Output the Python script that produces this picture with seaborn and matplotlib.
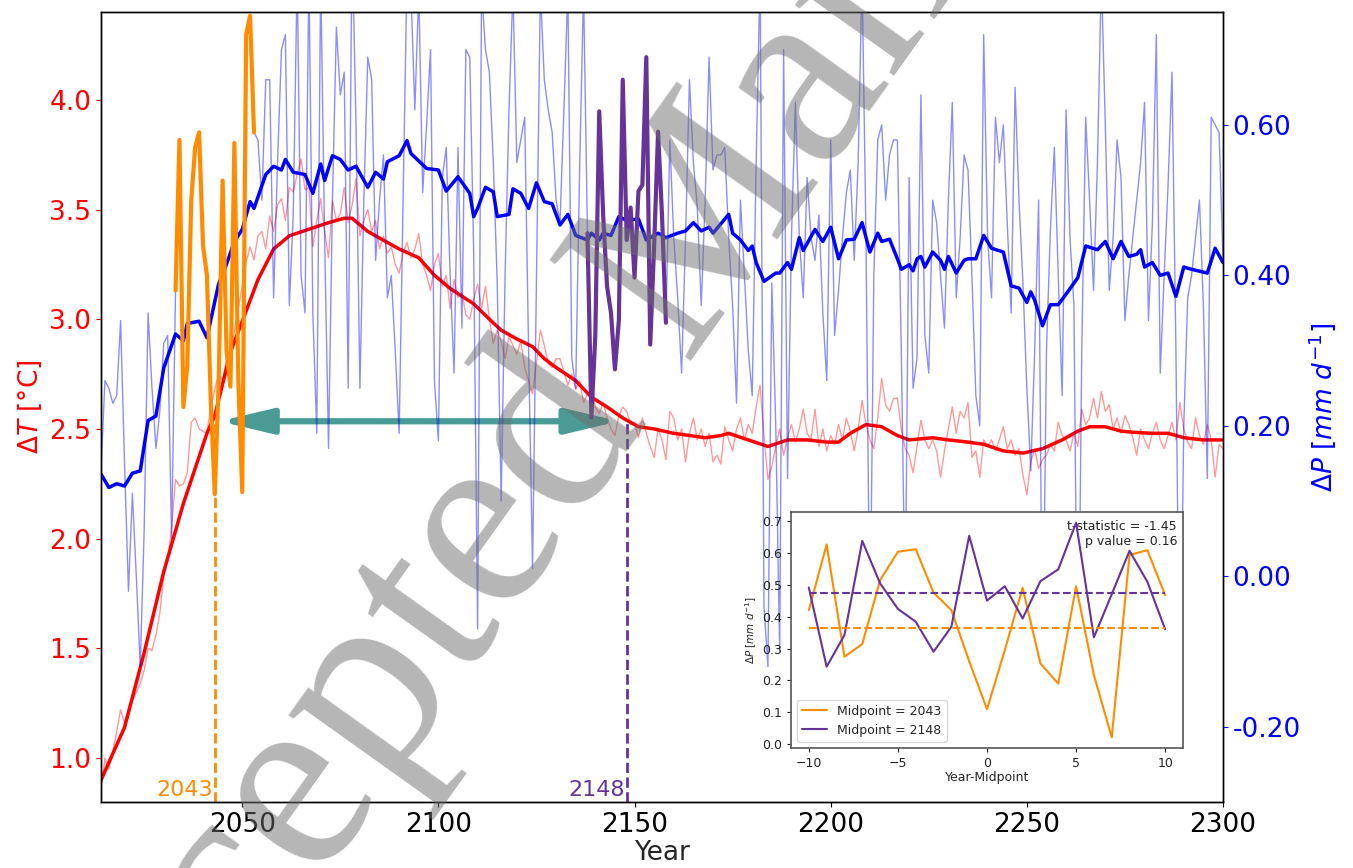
import numpy as np
import matplotlib
matplotlib.use("Agg")
import matplotlib.pyplot as plt
from matplotlib.ticker import FormatStrFormatter
import seaborn as sns

# ---- data ---------------------------------------------------------------
first_year, last_year = 2014, 2300

# annual temperature change (thin red), 2014-2300
temp_raw = [
    0.85, 1.00, 0.95, 1.03, 1.12, 1.22,
    1.16, 1.22, 1.26, 1.30, 1.34, 1.40, 1.50, 1.49, 1.56, 1.66,
    1.83, 1.90, 2.05, 2.27, 2.24, 2.25, 2.30, 2.53, 2.55, 2.50,
    2.49, 2.48, 2.60, 2.68, 2.75, 2.72, 2.82, 2.80, 2.95, 3.05,
    3.15, 3.26, 3.33, 3.27, 3.38, 3.40, 3.32, 3.47, 3.40, 3.52,
    3.55, 3.45, 3.60, 3.58, 3.66, 3.73, 3.59, 3.60, 3.33, 3.45,
    3.55, 3.40, 3.28, 3.54, 3.45, 3.48, 3.60, 3.44, 3.52, 3.64,
    3.38, 3.45, 3.50, 3.40, 3.45, 3.32, 3.38, 3.30, 3.33, 3.25,
    3.21, 3.30, 3.35, 3.28, 3.32, 3.39, 3.25, 3.20, 3.13, 3.25,
    3.30, 3.15, 3.20, 3.05, 3.18, 3.10, 3.12, 3.02, 3.00, 3.09,
    3.16, 3.05, 3.15, 3.00, 2.89, 2.95, 2.90, 2.82, 2.92, 2.88,
    2.84, 2.90, 2.78, 2.72, 2.66, 2.80, 2.95, 2.88, 2.80, 2.78,
    2.82, 2.82, 2.76, 2.70, 2.75, 2.68, 2.72, 2.62, 2.66, 2.68,
    2.60, 2.57, 2.62, 2.55, 2.50, 2.47, 2.56, 2.60, 2.58, 2.52,
    2.53, 2.46, 2.55, 2.48, 2.42, 2.37, 2.50, 2.45, 2.36, 2.58,
    2.55, 2.45, 2.50, 2.35, 2.48, 2.55, 2.45, 2.50, 2.42, 2.48,
    2.35, 2.38, 2.34, 2.51, 2.45, 2.40, 2.50, 2.55, 2.45, 2.52,
    2.48, 2.60, 2.70, 2.47, 2.27, 2.33, 2.42, 2.50, 2.38, 2.46,
    2.52, 2.44, 2.50, 2.59, 2.48, 2.45, 2.59, 2.42, 2.50, 2.40,
    2.47, 2.43, 2.52, 2.45, 2.55, 2.49, 2.40, 2.50, 2.63, 2.52,
    2.45, 2.41, 2.55, 2.73, 2.61, 2.58, 2.64, 2.64, 2.50, 2.41,
    2.38, 2.30, 2.42, 2.54, 2.45, 2.41, 2.45, 2.40, 2.28, 2.40,
    2.50, 2.60, 2.48, 2.58, 2.55, 2.62, 2.37, 2.40, 2.28, 2.45,
    2.42, 2.45, 2.40, 2.45, 2.51, 2.41, 2.45, 2.38, 2.41, 2.29,
    2.20, 2.35, 2.41, 2.32, 2.36, 2.38, 2.43, 2.40, 2.53, 2.47,
    2.45, 2.40, 2.48, 2.42, 2.59, 2.52, 2.55, 2.64, 2.55, 2.67,
    2.58, 2.61, 2.50, 2.55, 2.48, 2.56, 2.52, 2.46, 2.38, 2.50,
    2.45, 2.41, 2.48, 2.53, 2.45, 2.41, 2.47, 2.53, 2.45, 2.62,
    2.50, 2.44, 2.41, 2.55, 2.47, 2.43, 2.52, 2.45, 2.28, 2.43,
    2.41,
]

# smoothed temperature change (thick red)
temp_smooth_years = [
    2014, 2017, 2020, 2025, 2030, 2035, 2041, 2043, 2047, 2050, 2054, 2058,
    2062, 2067, 2072, 2076, 2078, 2082, 2086, 2090, 2095, 2099, 2103, 2109,
    2113, 2116, 2120, 2124, 2127, 2130, 2135, 2139, 2143, 2147, 2151, 2155,
    2160, 2164, 2168, 2172, 2174, 2179, 2184, 2189, 2194, 2199, 2202, 2205,
    2209, 2213, 2217, 2220, 2226, 2230, 2235, 2239, 2244, 2249, 2254, 2259,
    2263, 2266, 2270, 2274, 2277, 2282, 2286, 2290, 2295, 2300,
]
temp_smooth = [
    0.90, 1.02, 1.14, 1.48, 1.85, 2.16, 2.48, 2.56, 2.85, 2.99, 3.18, 3.32,
    3.38, 3.41, 3.44, 3.46, 3.46, 3.40, 3.36, 3.32, 3.28, 3.20, 3.14, 3.07,
    3.00, 2.95, 2.91, 2.875, 2.82, 2.78, 2.72, 2.645, 2.60, 2.55, 2.51, 2.50,
    2.48, 2.47, 2.46, 2.47, 2.48, 2.45, 2.42, 2.45, 2.45, 2.44, 2.44, 2.48,
    2.52, 2.51, 2.47, 2.45, 2.46, 2.45, 2.44, 2.43, 2.40, 2.39, 2.41, 2.45,
    2.49, 2.51, 2.51, 2.49, 2.485, 2.48, 2.48, 2.46, 2.45, 2.45,
]

# annual precipitation change (thin blue), split around the two windows
precip_2014_2032 = [
    0.14, 0.26, 0.25, 0.23, 0.24, 0.34, 0.15, -0.02, 0.11, 0.00,
    -0.12, 0.06, 0.35, 0.25, 0.17, 0.22, 0.31, 0.32, 0.05,
]
window_early = [
    0.38, 0.58, 0.225, 0.28, 0.50, 0.57, 0.59, 0.44, 0.40, 0.23, 0.109,
    0.26, 0.526, 0.30, 0.252, 0.576, 0.26, 0.112, 0.72, 0.745, 0.59,
]  # 2033-2053
precip_2054_2137 = [
    0.58, 0.50, 0.66, 0.66, 0.37, 0.55,
    0.70, 0.72, 0.36, 0.48, 0.80, 0.40, 0.35, 0.80, 0.35, 0.19,
    0.80, 0.45, 0.17, 0.50, 0.73, 0.64, 0.67, 0.25, 0.85, 0.60,
    0.25, 0.50, 0.69, 0.66, 0.42, 0.50, 0.56, 0.37, 0.40, 0.30,
    0.19, 0.50, 0.80, 0.78, 0.62, 0.78, 0.51, 0.60, 0.70, 0.26,
    0.18, 0.53, 0.57, 0.40, 0.27, 0.57, 0.33, 0.70, 0.69, 0.43,
    -0.07, 0.78, 0.70, 0.67, 0.55, 0.39, 0.10, 0.40, 0.62, 0.78,
    0.55, 0.58, 0.61, 0.30, 0.01, 0.40, 0.78, 0.66, 0.62, 0.59,
    0.50, 0.47, 0.62, 0.78, 0.29, 0.25, 0.54, 0.78,
]
window_late = [
    0.456, 0.211, 0.32, 0.618, 0.48, 0.385, 0.35, 0.275, 0.34, 0.66, 0.447,
    0.49, 0.397, 0.512, 0.52, 0.69, 0.308, 0.44, 0.591, 0.48, 0.337,
]  # 2138-2158
precip_2159_2300 = [
    0.58,
    0.45, 0.37, 0.27, 0.45, 0.66, 0.55, 0.49, 0.36, 0.50, 0.69,
    0.54, 0.56, 0.56, 0.57, 0.45, 0.36, 0.23, 0.50, 0.40, 0.30,
    0.24, 0.55, 0.80, -0.04, -0.12, 0.39, 0.20, -0.10, 0.70, 0.13,
    0.45, 0.63, 0.45, 0.37, 0.53, 0.45, 0.42, 0.48, 0.35, 0.26,
    0.58, 0.32, 0.38, 0.45, 0.51, 0.54, 0.42, 0.55, 0.80, 0.45,
    -0.10, 0.40, 0.58, 0.60, 0.50, 0.56, 0.58, 0.58, 0.30, -0.05,
    0.53, 0.25, 0.29, 0.64, 0.32, 0.27, 0.50, 0.47, 0.40, 0.33,
    0.50, 0.63, 0.37, 0.45, 0.56, 0.54, 0.40, 0.24, 0.20, 0.72,
    0.45, 0.37, 0.61, 0.55, 0.60, 0.47, 0.35, 0.65, 0.50, 0.39,
    0.25, 0.14, 0.30, 0.50, -0.15, 0.30, 0.46, 0.57, 0.40, 0.24,
    0.62, 0.45, 0.36, -0.20, 0.30, 0.61, 0.50, 0.38, 0.55, 0.80,
    0.60, 0.38, 0.45, 0.58, 0.53, 0.34, 0.40, 0.45, 0.50, 0.55,
    0.63, 0.34, 0.47, 0.72, 0.27, 0.40, 0.52, 0.67, 0.30, -0.20,
    0.20, 0.37, 0.40, 0.45, 0.50, 0.36, 0.13, 0.61, 0.60, 0.59,
    0.42,
]

# smoothed precipitation change (thick blue)
precip_smooth_years = [
    2014, 2016, 2018, 2020, 2022, 2024, 2026, 2028, 2030, 2033, 2035, 2036,
    2039, 2041, 2044, 2045, 2048, 2050, 2052, 2053, 2056, 2058, 2060, 2061,
    2063, 2066, 2068, 2070, 2071, 2073, 2075, 2077, 2079, 2082, 2084, 2086,
    2087, 2090, 2092, 2093, 2097, 2100, 2102, 2105, 2108, 2109, 2110, 2112,
    2114, 2115, 2118, 2119, 2121, 2123, 2125, 2127, 2129, 2131, 2133, 2135,
    2138, 2139, 2141, 2142, 2144, 2146, 2148, 2151, 2153, 2156, 2158, 2161,
    2163, 2165, 2167, 2169, 2170, 2174, 2175, 2177, 2179, 2180, 2181, 2183,
    2186, 2187, 2189, 2190, 2192, 2193, 2196, 2198, 2200, 2202, 2204, 2206,
    2208, 2210, 2212, 2213, 2215, 2217, 2218, 2220, 2221, 2222, 2223, 2224,
    2226, 2228, 2229, 2230, 2232, 2234, 2235, 2237, 2239, 2241, 2244, 2246,
    2248, 2250, 2251, 2252, 2254, 2256, 2258, 2260, 2263, 2265, 2268, 2270,
    2272, 2274, 2276, 2278, 2279, 2280, 2282, 2284, 2286, 2288, 2290, 2292,
    2296, 2298, 2300,
]
precip_smooth = [
    0.136, 0.118, 0.123, 0.120, 0.137, 0.140, 0.207, 0.213, 0.277, 0.322, 0.313, 0.336,
    0.339, 0.317, 0.389, 0.400, 0.445, 0.461, 0.498, 0.489, 0.534, 0.545, 0.540, 0.554,
    0.537, 0.534, 0.509, 0.548, 0.526, 0.559, 0.554, 0.540, 0.545, 0.517, 0.537, 0.528,
    0.551, 0.559, 0.579, 0.562, 0.542, 0.540, 0.512, 0.531, 0.509, 0.478, 0.489, 0.517,
    0.511, 0.478, 0.481, 0.515, 0.509, 0.489, 0.523, 0.498, 0.495, 0.467, 0.481, 0.453,
    0.447, 0.456, 0.447, 0.456, 0.453, 0.478, 0.473, 0.475, 0.447, 0.456, 0.450, 0.456,
    0.459, 0.470, 0.459, 0.464, 0.456, 0.481, 0.456, 0.447, 0.433, 0.439, 0.417, 0.392,
    0.403, 0.403, 0.417, 0.408, 0.450, 0.433, 0.461, 0.445, 0.464, 0.422, 0.447, 0.448,
    0.470, 0.431, 0.456, 0.445, 0.448, 0.422, 0.408, 0.414, 0.406, 0.422, 0.425, 0.411,
    0.431, 0.420, 0.408, 0.425, 0.403, 0.420, 0.422, 0.422, 0.453, 0.436, 0.431, 0.386,
    0.383, 0.364, 0.378, 0.367, 0.333, 0.361, 0.361, 0.375, 0.397, 0.439, 0.434, 0.445,
    0.422, 0.445, 0.425, 0.428, 0.434, 0.411, 0.417, 0.400, 0.403, 0.372, 0.411, 0.408,
    0.403, 0.436, 0.417,
]

# inset: precipitation around the two midpoints
mid_early, mid_late = 2043, 2148
offsets = list(range(-10, 11))
inset_early = [0.42, 0.626, 0.274, 0.314, 0.514, 0.603, 0.611, 0.475, 0.42, 0.26, 0.11,
               0.295, 0.49, 0.253, 0.19, 0.495, 0.217, 0.022, 0.593, 0.608, 0.467]
inset_late = [0.491, 0.243, 0.342, 0.637, 0.504, 0.424, 0.384, 0.29, 0.368, 0.653, 0.45,
              0.495, 0.394, 0.511, 0.548, 0.694, 0.335, 0.47, 0.606, 0.509, 0.36]
inset_level_early = 0.363
inset_level_late = 0.475
t_stat, p_value = -1.45, 0.16
arrow_level = 2.535

# ---- figure ---------------------------------------------------------------
sns.set_style("ticks")
plt.rcParams["font.family"] = ["DejaVu Sans"]

years = np.arange(first_year, last_year + 1)
precip_raw = precip_2014_2032 + window_early + precip_2054_2137 + window_late + precip_2159_2300

fig = plt.figure(figsize=(13.53, 8.68), dpi=100)
ax = fig.add_axes([101 / 1353, 1 - 802 / 868, (1223 - 101) / 1353, (802 - 12) / 868])

c_orange = "darkorange"
c_purple = "rebeccapurple"

sns.lineplot(x=years, y=temp_raw, color="red", lw=1, alpha=0.4, ax=ax)
sns.lineplot(x=temp_smooth_years, y=temp_smooth, color="red", lw=2.5, ax=ax)

ax.vlines(mid_early, 0.8, arrow_level, colors=c_orange, linestyles="--", lw=2)
ax.vlines(mid_late, 0.8, arrow_level, colors=c_purple, linestyles="--", lw=2)
ax.annotate(
    "", xy=(mid_early + 1.2, arrow_level), xytext=(mid_late - 2, arrow_level),
    arrowprops=dict(arrowstyle="<|-|>,head_length=1.05,head_width=0.25",
                    mutation_scale=30, lw=4.5, color="#4a9a95",
                    shrinkA=0, shrinkB=0),
)
ax.text(mid_early - 0.4, 0.81, str(mid_early), color=c_orange, fontsize=16,
        ha="right", va="bottom")
ax.text(mid_late - 0.4, 0.81, str(mid_late), color=c_purple, fontsize=16,
        ha="right", va="bottom")

ax.set_xlim(first_year, last_year)
ax.set_ylim(0.8, 4.4)
ax.set_xticks([2050, 2100, 2150, 2200, 2250, 2300])
ax.set_yticks(np.arange(1.0, 4.01, 0.5))
ax.set_xlabel("Year", fontsize=19, labelpad=2)
ax.set_ylabel(r"$\Delta T$ [°C]", color="red", fontsize=19)
ax.tick_params(axis="y", colors="red", labelsize=19)
ax.tick_params(axis="x", colors="black", labelsize=19)

ax2 = ax.twinx()
sns.lineplot(x=years, y=precip_raw, color="blue", lw=1, alpha=0.45, ax=ax2)
sns.lineplot(x=precip_smooth_years, y=precip_smooth, color="blue", lw=2.5, ax=ax2)
sns.lineplot(x=np.arange(mid_early - 10, mid_early + 11), y=window_early,
             color=c_orange, lw=3, ax=ax2)
sns.lineplot(x=np.arange(mid_late - 10, mid_late + 11), y=window_late,
             color=c_purple, lw=3, ax=ax2)
ax2.set_ylim(-0.3, 0.75)
ax2.set_yticks([-0.2, 0.0, 0.2, 0.4, 0.6])
ax2.yaxis.set_major_formatter(FormatStrFormatter("%.2f"))
ax2.tick_params(axis="y", colors="blue", labelsize=19)
ax2.set_ylabel(r"$\Delta P\ [mm\ d^{-1}]$", color="blue", fontsize=19)

for a in (ax, ax2):
    for s in a.spines.values():
        s.set_color("black")
        s.set_linewidth(1.0)

# inset comparing the two windows
axin = fig.add_axes([791 / 1353, 1 - 748 / 868, 392 / 1353, 236 / 868])
axin.set_facecolor("white")
sns.lineplot(x=offsets, y=inset_early, color=c_orange, lw=1.5,
             label=f"Midpoint = {mid_early}", ax=axin)
sns.lineplot(x=offsets, y=inset_late, color=c_purple, lw=1.5,
             label=f"Midpoint = {mid_late}", ax=axin)
axin.hlines(inset_level_early, -10, 10, colors=c_orange, linestyles="--", lw=1.5)
axin.hlines(inset_level_late, -10, 10, colors=c_purple, linestyles="--", lw=1.5)
axin.legend(loc="lower left", fontsize=9)
axin.text(0.985, 0.965, f"t-statistic = {t_stat:.2f}\np value = {p_value:.2f}",
          transform=axin.transAxes, ha="right", va="top", fontsize=9,
          color="#222222", zorder=1)
axin.set_xticks([-10, -5, 0, 5, 10])
axin.set_yticks(np.arange(0, 0.71, 0.1))
axin.set_xlabel("Year-Midpoint", fontsize=9, labelpad=1)
axin.set_ylabel(r"$\Delta P\ [mm\ d^{-1}]$", fontsize=7.5, labelpad=2)
axin.tick_params(labelsize=9, colors="#222222", length=3)
for s in axin.spines.values():
    s.set_color("#555555")
    s.set_linewidth(1.2)

# manuscript watermark
fig.text(0.052, -0.418, "Accepted Manuscript", rotation=54.5, rotation_mode="anchor",
         ha="left", va="baseline", fontsize=190, family=["Liberation Serif", "DejaVu Serif"],
         color="#6e6e6e", alpha=0.5, zorder=10)

fig.savefig("out.png", dpi=100)
